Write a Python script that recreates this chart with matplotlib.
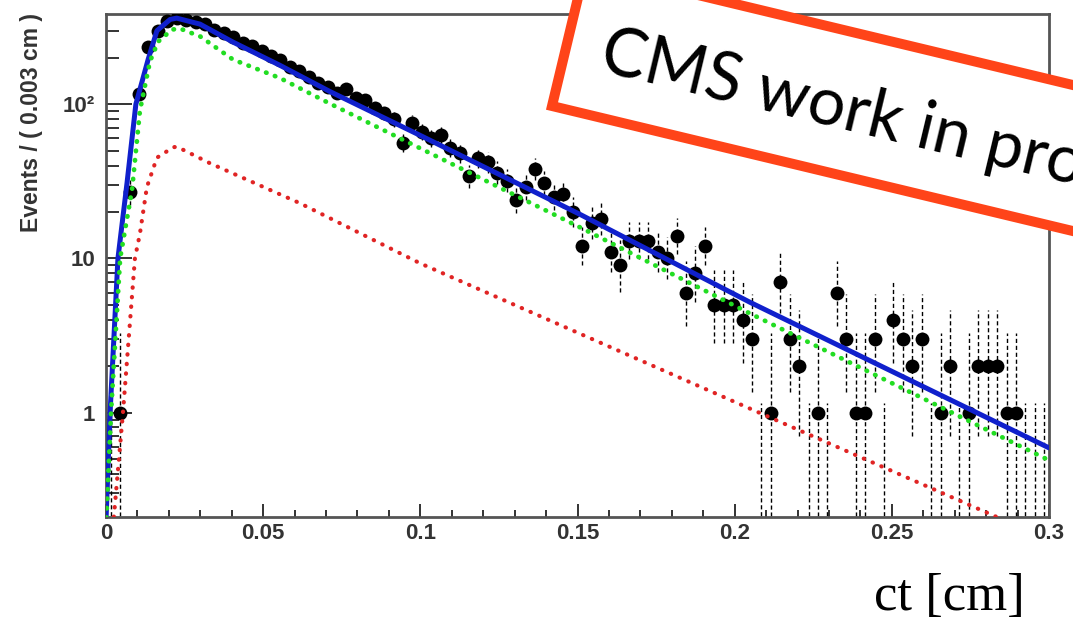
import numpy as np
import matplotlib
matplotlib.use("Agg")
import matplotlib.pyplot as plt
from matplotlib.patches import Rectangle
from matplotlib.transforms import IdentityTransform
from matplotlib.ticker import FixedLocator, FixedFormatter, NullFormatter

# ---- binning of the ct distribution ----
bin_width = 0.003
n_bins = 100

# ---- event counts per 0.003 cm bin ----
counts = [
    0, 1, 27, 117, 234, 300, 345, 360, 350, 340,
    330, 305, 290, 272, 250, 240, 222, 205, 193, 175,
    165, 150, 137, 130, 118, 126, 110, 106, 95, 88,
    80, 56, 76, 66, 60, 63, 52, 48, 34, 45,
    42, 36, 32, 24, 29, 38, 31, 25, 26, 20,
    12, 17, 18, 11, 9, 13, 13, 13, 11, 10,
    14, 6, 8, 12, 5, 5, 5, 4, 3, 0,
    1, 7, 3, 2, 0, 1, 0, 6, 3, 1,
    1, 3, 0, 4, 3, 2, 3, 0, 1, 2,
    0, 1, 2, 2, 2, 1, 1, 0, 0, 0,
]

# ---- fitted model components (ct [cm], events per bin) ----
total_x = [0.0, 0.0013, 0.0038, 0.0067, 0.0095, 0.0134, 0.0162, 0.0204, 0.0225,
           0.0299, 0.0404, 0.0553, 0.0712, 0.1005, 0.1508, 0.2048, 0.3]
total_y = [0.2, 1.0, 10, 31, 100, 195, 300, 355, 362,
           331, 253, 179, 121, 62, 19.3, 5.2, 0.59]

signal_x = [0.0, 0.0016, 0.0045, 0.0083, 0.0108, 0.014, 0.0166, 0.021, 0.0235,
            0.030, 0.0404, 0.0553, 0.0712, 0.1508, 0.2048, 0.3]
signal_y = [0.18, 1.0, 10, 28, 91, 190, 255, 305, 310,
            275, 195, 148, 101, 15.9, 4.4, 0.49]

bkg_x = [0.0025, 0.0054, 0.0092, 0.0108, 0.013, 0.0162, 0.0214, 0.0226,
         0.0331, 0.0617, 0.0999, 0.2112, 0.2834, 0.3]
bkg_y = [0.21, 1.0, 10, 14.5, 29, 45, 52.6, 53,
         41.4, 22.8, 9.3, 0.93, 0.21, 0.147]

# ---- axis ticks ----
x_major = [0.0, 0.05, 0.10, 0.15, 0.20, 0.25, 0.30]
x_labels = ["0", "0.05", "0.1", "0.15", "0.2", "0.25", "0.3"]
y_major = [1, 10, 100]
y_labels = ["1", "10", "10\u00b2"]

# 68% Poisson intervals for small counts
poisson_low = [0.0, 0.173, 0.708, 1.367, 2.086, 2.840, 3.620, 4.419, 5.232, 6.057]
poisson_high = [1.148, 3.300, 4.638, 5.918, 7.163, 8.382, 9.584, 10.77, 11.95, 13.11]

Y_MIN, Y_MAX = 0.21, 385.0

W, H = 1073, 619
fig = plt.figure(figsize=(W / 100, H / 100), dpi=100)
fig.patch.set_facecolor("white")
ax = fig.add_axes([106 / W, (H - 517) / H, 943 / W, 503 / H])

centers = (np.arange(n_bins) + 0.5) * bin_width
n = np.asarray(counts, dtype=float)
lo = np.empty(n_bins)
hi = np.empty(n_bins)
for i, c in enumerate(counts):
    if c < len(poisson_low):
        lo[i], hi[i] = poisson_low[c], poisson_high[c]
    else:
        s = np.sqrt(c + 0.25)
        lo[i], hi[i] = c + 0.5 - s, c + 0.5 + s
lo = np.maximum(lo, 1e-3)

dash = (0, (3, 2))
ax.vlines(centers, lo, hi, colors="black", linestyles=[dash], linewidth=1.0, zorder=2)
filled = n > 0
ax.hlines(n[filled], centers[filled] - bin_width / 2, centers[filled] + bin_width / 2,
          colors="black", linestyles=[dash], linewidth=1.0, zorder=2)
ax.plot(centers[filled], n[filled], "o", color="black", ms=10, mew=0, zorder=3)

# model curves
ax.plot(total_x, total_y, color="#1020cc", lw=3.6, solid_capstyle="round", zorder=4)
ax.plot(signal_x, signal_y, color="#22dd22", lw=3.4, linestyle=(0, (0.1, 1.9)),
        dash_capstyle="round", zorder=5)
ax.plot(bkg_x, bkg_y, color="#e02424", lw=3.0, linestyle=(0, (0.1, 2.2)),
        dash_capstyle="round", zorder=5)

ax.set_yscale("log")
ax.set_xlim(0, 0.3)
ax.set_ylim(Y_MIN, Y_MAX)

ax.xaxis.set_major_locator(FixedLocator(x_major))
ax.xaxis.set_major_formatter(FixedFormatter(x_labels))
ax.xaxis.set_minor_locator(FixedLocator(np.arange(0, 0.3001, 0.01)))
ax.yaxis.set_major_locator(FixedLocator(y_major))
ax.yaxis.set_major_formatter(FixedFormatter(y_labels))
y_minor = [m * d for d in (0.1, 1, 10, 100) for m in range(2, 10)]
ax.yaxis.set_minor_locator(FixedLocator(y_minor))
ax.yaxis.set_minor_formatter(NullFormatter())

for lab in ax.get_xticklabels() + ax.get_yticklabels():
    lab.set_fontfamily("Liberation Sans")
    lab.set_fontweight("bold")
    lab.set_fontsize(16)
    lab.set_color("#333333")

ax.tick_params(axis="both", which="both", direction="in", color="#333333",
               top=False, right=False)
ax.tick_params(axis="y", which="major", length=19, width=1.4, pad=8)
ax.tick_params(axis="y", which="minor", length=9.5, width=1.4)
ax.tick_params(axis="x", which="major", length=9.5, width=1.4, pad=4)
ax.tick_params(axis="x", which="minor", length=5, width=1.4)
for sp in ax.spines.values():
    sp.set_color("#555555")
    sp.set_linewidth(2.0)

ident = IdentityTransform()
fig.text(32, H - 13, "Events / ( 0.003 cm )", rotation=90, ha="center", va="top",
         fontsize=16.5, fontweight="bold", family="Liberation Sans", color="#333333",
         transform=ident)

fig.text(1025, H - 610, "ct [cm]", ha="right", va="baseline", fontsize=38,
         family="Liberation Serif", color="black", transform=ident)

# rotated "work in progress" stamp
angle = -13.5
stamp = Rectangle((552, H - 106), 1200, 142, angle=angle, facecolor="white",
                  edgecolor="#ff4419", linewidth=7.2, transform=ident, zorder=5)
fig.add_artist(stamp)
fig.text(598, H - 70, "CMS work in progress", rotation=angle, rotation_mode="anchor",
         ha="left", va="baseline", fontsize=48, family="Lato", color="black",
         transform=ident, zorder=6)

fig.savefig("out.png", dpi=100, facecolor="white")
